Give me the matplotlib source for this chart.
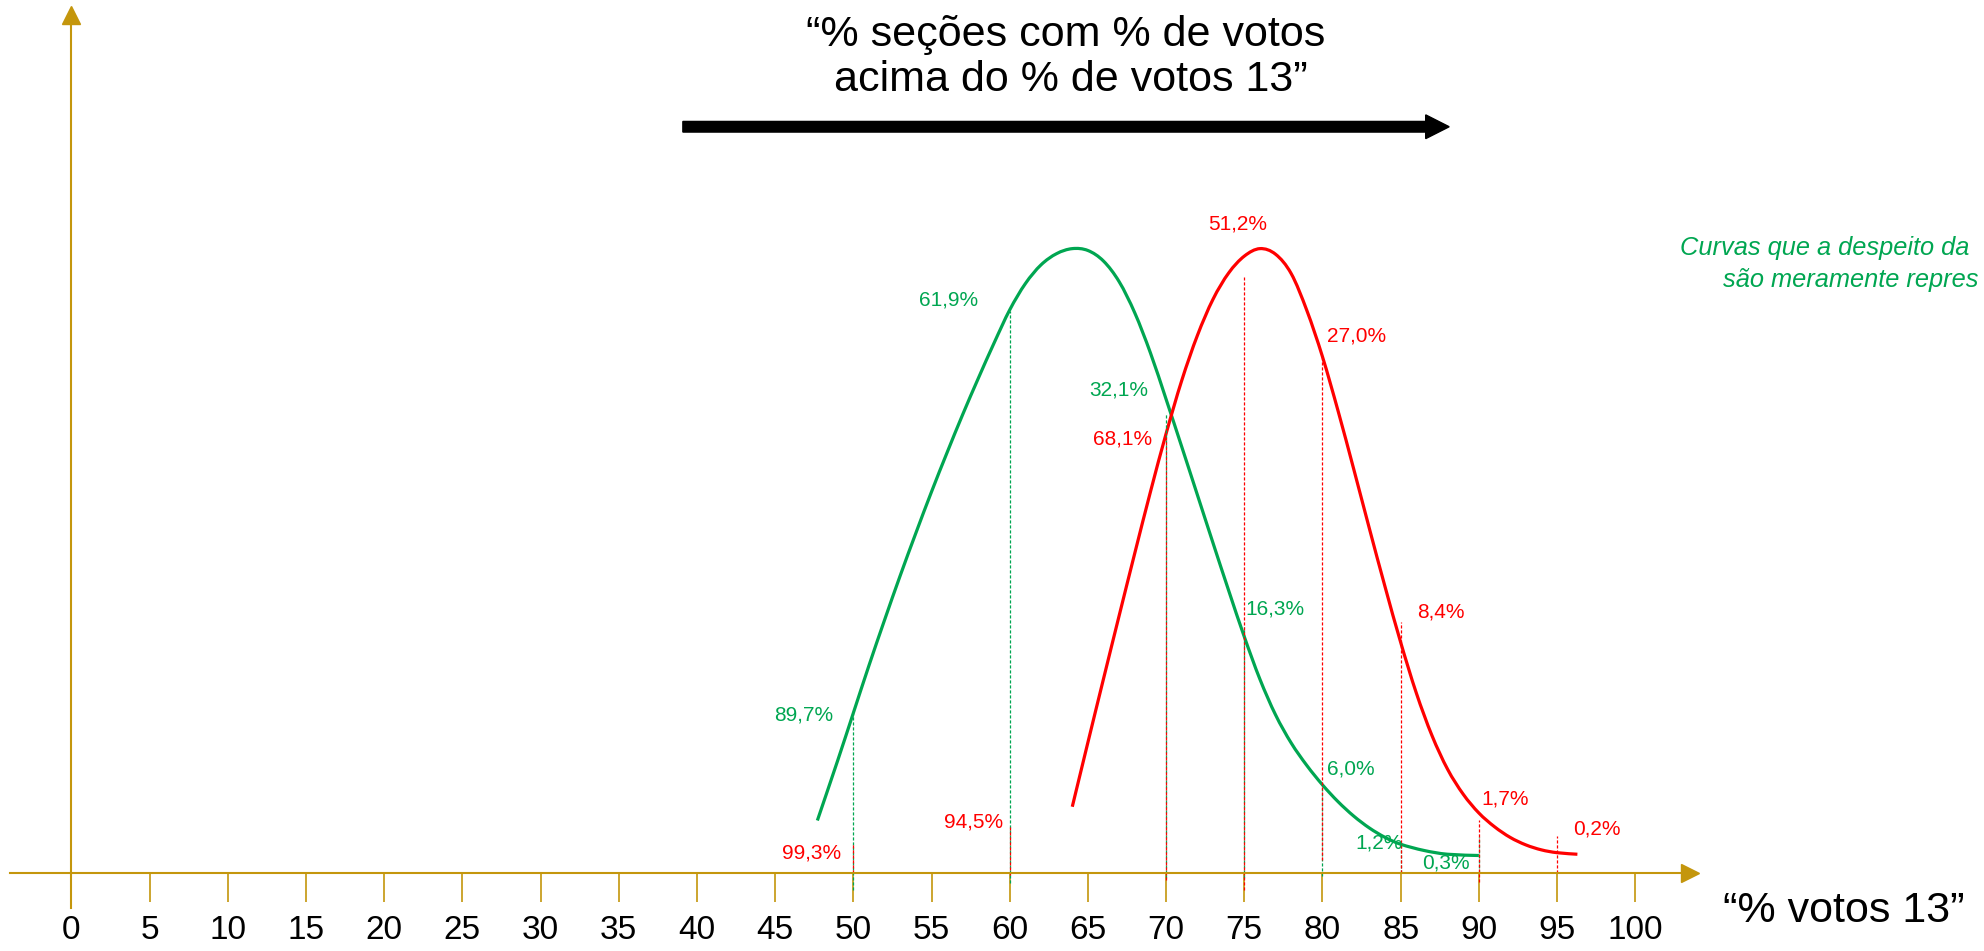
import numpy as np
import matplotlib.pyplot as plt
from matplotlib.path import Path
from matplotlib.patches import PathPatch

plt.rcParams['font.family'] = ['Liberation Sans', 'DejaVu Sans']

# curves (x = % votos 13, y = relative height)
green_x = [47.7, 49, 50, 51, 52, 53, 54, 55, 56, 57, 58, 59, 60, 61, 62, 63, 64,
           65, 66, 67, 68, 69, 70, 71, 72, 73, 74, 75, 76, 77, 78, 79, 80, 81,
           82, 83, 84, 85, 86.5, 88, 90]
green_y = [8.4, 18.0, 25.6, 33.2, 40.5, 47.6, 54.4, 61.0, 67.3, 73.4, 79.2, 84.8,
           90.1, 94.3, 97.3, 99.1, 99.9, 99.6, 97.9, 94.6, 89.6, 83.2, 75.8, 68.2,
           60.5, 52.8, 45.2, 37.8, 31.0, 25.3, 20.8, 17.2, 14.1, 11.4, 9.1, 7.2,
           5.7, 4.6, 3.6, 3.0, 2.8]
red_x = [64, 65, 66, 67, 68, 69, 70, 71, 72, 73, 74, 75, 76, 77, 78, 79, 80, 81,
         82, 83, 84, 85, 86, 87, 88, 89, 90, 91, 92, 93, 94, 95, 96.3]
red_y = [10.6, 20.9, 31.1, 41.2, 51.2, 61.0, 70.3, 78.8, 86.0, 91.8, 96.0, 98.7,
         99.9, 99.0, 95.9, 90.0, 82.6, 73.9, 64.6, 55.1, 45.8, 36.9, 28.8, 22.0,
         16.6, 12.6, 9.6, 7.4, 5.7, 4.5, 3.7, 3.25, 3.0]

ticks = list(range(0, 105, 5))

# marked points on each curve
green_marks = [50, 60, 70, 75, 80, 85, 90]
green_labels = ['89,7%', '61,9%', '32,1%', '16,3%', '6,0%', '1,2%', '0,3%']
green_tops = [25.6, 90.0, 73.6, 39.4, 14.1, 4.5, 5.8]
green_bottoms = [-2.7, -1.6, -0.8, -0.8, -0.5, 0, 0]

red_marks = [50, 60, 70, 75, 80, 85, 90, 95]
red_labels = ['99,3%', '94,5%', '68,1%', '51,2%', '27,0%', '8,4%', '1,7%', '0,2%']
red_tops = [4.8, 7.4, 69.8, 95.4, 82.6, 40.2, 8.5, 5.9]
red_bottoms = [0, -0.3, -1.1, -2.7, 2.1, 0, -1.4, 0]

# label anchors
green_pos = [(48.7, 25.3, 'right'), (58.0, 91.7, 'right'), (65.1, 77.3, 'left'),
             (75.05, 42.2, 'left'), (80.3, 16.6, 'left'), (82.1, 4.8, 'left'),
             (86.4, 1.6, 'left')]
red_pos = [(49.2, 3.2, 'right'), (59.6, 8.2, 'right'), (69.1, 69.4, 'right'),
           (74.6, 103.8, 'center'), (80.3, 85.9, 'left'), (86.05, 41.8, 'left'),
           (90.15, 11.8, 'left'), (96.0, 7.0, 'left')]

GREEN = '#00A651'
RED = '#FF0000'
AXIS = '#C4960C'


def smooth_path(x, y):
    # Catmull-Rom through the read points, drawn as cubic Bezier segments
    pts = np.column_stack([x, y])
    p = np.vstack([pts[0], pts, pts[-1]])
    verts = [pts[0]]
    codes = [Path.MOVETO]
    for i in range(1, len(p) - 2):
        c1 = p[i] + (p[i + 1] - p[i - 1]) / 6
        c2 = p[i + 1] - (p[i + 2] - p[i]) / 6
        verts += [c1, c2, p[i + 1]]
        codes += [Path.CURVE4] * 3
    return Path(verts, codes)


fig = plt.figure(figsize=(19.84, 9.51), dpi=100)
ax = fig.add_axes([0, 0, 1, 1])
ax.set_xlim(-4.566, 122.30)
ax.set_ylim(-12.48, 139.68)

# axes drawn as arrows through the origin
for s in ['top', 'right']:
    ax.spines[s].set_visible(False)
for s in ['bottom', 'left']:
    ax.spines[s].set_position(('data', 0))
    ax.spines[s].set_color(AXIS)
    ax.spines[s].set_linewidth(1.5)
ax.spines['bottom'].set_bounds(-3.9, 103.5)
ax.spines['left'].set_bounds(-5.6, 137.5)
ax.plot(103.5, 0, marker='>', ms=13, color=AXIS, clip_on=False)
ax.plot(0, 137.3, marker='^', ms=13, color=AXIS, clip_on=False)

ax.set_xticks(ticks)
ax.set_xticklabels([str(t) for t in ticks])
ax.tick_params(axis='x', direction='out', length=21, width=1.2, color=AXIS,
               pad=9, labelsize=24)
ax.set_yticks([])

# dotted guides
ax.vlines(green_marks, green_bottoms, green_tops, colors=GREEN, lw=0.9,
          linestyles=(0, (2.5, 1.5)))
ax.vlines(red_marks, red_bottoms, red_tops, colors=RED, lw=0.9,
          linestyles=(0, (2.5, 1.5)))

# curves
ax.add_patch(PathPatch(smooth_path(green_x, green_y), fill=False,
                       edgecolor=GREEN, lw=2.3))
ax.add_patch(PathPatch(smooth_path(red_x, red_y), fill=False,
                       edgecolor=RED, lw=2.3))

for lab, (x, y, ha) in zip(green_labels, green_pos):
    ax.text(x, y, lab, color=GREEN, fontsize=15, ha=ha, va='center')
for lab, (x, y, ha) in zip(red_labels, red_pos):
    ax.text(x, y, lab, color=RED, fontsize=15, ha=ha, va='center')

# header with black arrow
ax.text(63.55, 130.5, '“% seções com % de votos\n acima do % de votos 13”',
        ha='center', va='center', fontsize=31, linespacing=1.15)
ax.arrow(39.1, 119.4, 49.0, 0, width=1.7, head_width=3.8, head_length=1.5,
         length_includes_head=True, color='black')

ax.text(105.6, -6.1, '“% votos 13”', fontsize=31, ha='left', va='center')

ax.text(102.86, 100.0, 'Curvas que a despeito da', color=GREEN, fontsize=18.3,
        style='italic', ha='left', va='center')
ax.text(105.6, 94.9, 'são meramente repres', color=GREEN, fontsize=18.3,
        style='italic', ha='left', va='center')

fig.savefig('out.png', dpi=100, facecolor='white')
